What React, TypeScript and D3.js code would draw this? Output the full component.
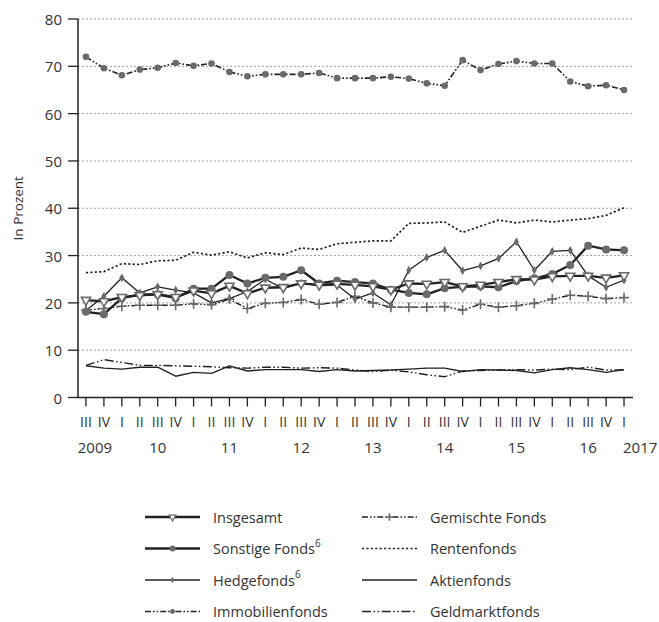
import * as d3 from 'd3';

// Quarters 2009 Q3 .. 2017 Q1
const quarterLabels = [
  'III', 'IV',
  'I', 'II', 'III', 'IV',
  'I', 'II', 'III', 'IV',
  'I', 'II', 'III', 'IV',
  'I', 'II', 'III', 'IV',
  'I', 'II', 'III', 'IV',
  'I', 'II', 'III', 'IV',
  'I', 'II', 'III', 'IV',
  'I',
];
const yearLabels = ['2009', '10', '11', '12', '13', '14', '15', '16', '2017'];
const yearAt = [0.5, 4, 8, 12, 16, 20, 24, 28, 30.9];
const yTicks = [0, 10, 20, 30, 40, 50, 60, 70, 80];

const insgesamt = [20.6, 20.3, 21.2, 21.6, 21.8, 21.2, 22.6, 22.0, 23.6, 22.0, 23.2, 23.3, 24.1, 23.8, 24.0, 23.8, 23.5, 22.8, 24.1, 24.0, 24.4, 23.5, 23.8, 24.4, 25.0, 24.9, 25.6, 25.7, 25.7, 25.3, 25.8];
const sonstige = [18.1, 17.6, 21.0, 21.8, 21.8, 21.0, 23.0, 23.0, 25.9, 24.1, 25.3, 25.5, 26.9, 24.1, 24.7, 24.4, 24.1, 22.8, 22.1, 21.8, 23.1, 23.4, 23.5, 23.3, 24.6, 25.2, 26.1, 28.0, 32.1, 31.3, 31.1];
const hedgefonds = [18.4, 21.4, 25.3, 22.1, 23.4, 22.7, 22.1, 20.0, 20.9, 22.4, 25.0, 23.0, 24.2, 23.6, 23.8, 20.8, 22.1, 19.6, 26.9, 29.6, 31.1, 26.8, 27.8, 29.4, 32.9, 26.9, 30.9, 31.1, 25.7, 23.3, 24.8];
const immobilien = [72.0, 69.6, 68.1, 69.3, 69.7, 70.7, 70.1, 70.6, 68.8, 67.9, 68.3, 68.3, 68.3, 68.6, 67.5, 67.5, 67.5, 67.8, 67.4, 66.4, 65.9, 71.3, 69.2, 70.5, 71.1, 70.6, 70.6, 66.8, 65.8, 66.0, 65.0];
const gemischte = [18.5, 18.8, 19.3, 19.5, 19.5, 19.5, 19.8, 19.6, 20.8, 18.8, 19.9, 20.1, 20.7, 19.7, 20.1, 21.4, 20.0, 19.1, 19.1, 19.1, 19.2, 18.5, 19.7, 19.1, 19.4, 19.9, 20.8, 21.6, 21.4, 20.9, 21.1];
const rentenfonds = [26.4, 26.6, 28.3, 28.1, 28.9, 29.0, 30.7, 30.1, 30.8, 29.5, 30.6, 30.2, 31.6, 31.3, 32.5, 32.8, 33.1, 33.1, 36.8, 36.9, 37.1, 34.9, 36.2, 37.5, 36.9, 37.5, 37.1, 37.5, 37.8, 38.5, 40.1];
const aktienfonds = [6.7, 6.2, 6.0, 6.4, 6.4, 4.5, 5.3, 5.1, 6.7, 5.6, 5.9, 5.9, 5.9, 5.5, 5.9, 5.6, 5.7, 5.8, 6.0, 6.2, 6.2, 5.5, 5.9, 5.8, 5.7, 5.2, 5.9, 6.3, 5.9, 5.3, 5.9];
const geldmarkt = [6.8, 8.0, 7.4, 6.8, 6.8, 6.7, 6.6, 6.5, 6.3, 6.2, 6.4, 6.4, 6.2, 6.3, 6.2, 5.8, 5.5, 5.8, 5.4, 4.8, 4.4, 5.6, 5.7, 5.8, 5.9, 5.8, 6.0, 5.9, 6.4, 5.8, 5.8];

type Marker = 'triangle' | 'circle' | 'diamond' | 'dot' | 'plus' | 'none';
type Series = { name: string; sup?: string; values: number[]; width: number; dash?: string; marker: Marker };

const INK = '#222';
const GREY = '#6a6a6a';
const DDOT = '6,2,1.6,2,1.6,2';

const series: Series[] = [
  { name: 'Aktienfonds', values: aktienfonds, width: 1.4, marker: 'none' },
  { name: 'Geldmarktfonds', values: geldmarkt, width: 1.4, dash: '9,2.5,1.6,2.5,1.6,2.5', marker: 'none' },
  { name: 'Rentenfonds', values: rentenfonds, width: 1.7, dash: '2.2,2.2', marker: 'none' },
  { name: 'Gemischte Fonds', values: gemischte, width: 1.4, dash: DDOT, marker: 'plus' },
  { name: 'Hedgefonds', sup: '6', values: hedgefonds, width: 1.3, marker: 'diamond' },
  { name: 'Sonstige Fonds', sup: '6', values: sonstige, width: 2.3, marker: 'circle' },
  { name: 'Insgesamt', values: insgesamt, width: 2.3, marker: 'triangle' },
  { name: 'Immobilienfonds', values: immobilien, width: 1.6, dash: DDOT, marker: 'dot' },
];

const legendLeft = ['Insgesamt', 'Sonstige Fonds', 'Hedgefonds', 'Immobilienfonds'];
const legendRight = ['Gemischte Fonds', 'Rentenfonds', 'Aktienfonds', 'Geldmarktfonds'];

const FONT = '"Open Sans", "Noto Sans", sans-serif';

function MarkerShape({ kind, x, y, k = 1 }: { kind: Marker; x: number; y: number; k?: number }) {
  if (kind === 'circle') return <circle cx={x} cy={y} r={4 * k} fill={GREY} />;
  if (kind === 'dot') return <circle cx={x} cy={y} r={3.3 * k} fill={GREY} />;
  if (kind === 'diamond') {
    const p = d3.symbol(d3.symbolDiamond, 22 * k * k)();
    return <path d={p || ''} transform={`translate(${x},${y})`} fill={GREY} />;
  }
  if (kind === 'triangle') {
    const p = d3.symbol(d3.symbolTriangle, 36 * k * k)();
    return <path d={p || ''} transform={`translate(${x},${y}) rotate(180)`} fill="#fff" stroke={GREY} strokeWidth={1.6 * k} />;
  }
  if (kind === 'plus') {
    const a = 5 * k;
    return (
      <path d={`M${x - a},${y}H${x + a}M${x},${y - a}V${y + a}`} stroke={GREY} strokeWidth={1.6} fill="none" />
    );
  }
  return null;
}

export default function App() {
  const width = 659;
  const height = 622;
  const x = d3.scaleLinear().domain([-0.5, 30.5]).range([77, 633]);
  const y = d3.scaleLinear().domain([0, 80]).range([397.5, 19]);
  const line = d3
    .line<number>()
    .x((_, i) => x(i))
    .y((d) => y(d));

  const byName = new Map(series.map((s) => [s.name, s]));
  const idx = quarterLabels.map((_, i) => i);

  const legendRow = (name: string, col: number, row: number) => {
    const s = byName.get(name)!;
    const x0 = col === 0 ? 145 : 362;
    const ly = 517 + row * 31.5;
    return (
      <g key={name}>
        <line x1={x0} x2={x0 + 55} y1={ly} y2={ly} stroke={INK} strokeWidth={s.width} strokeDasharray={s.dash} />
        <MarkerShape kind={s.marker} x={x0 + 27.5} y={ly} k={0.75} />
        <text x={x0 + 68} y={ly} dominantBaseline="central" fontSize={14.5} fill="#333">
          {s.name}
          {s.sup && (
            <tspan fontSize={10} dy={-6}>
              {s.sup}
            </tspan>
          )}
        </text>
      </g>
    );
  };

  return (
    <svg
      width={width}
      height={height}
      style={{ position: 'absolute', left: 0, top: 0, fontFamily: FONT }}
      role="img"
      aria-label="Fondsanteile in Prozent"
    >
      <rect width={width} height={height} fill="#fff" />
      {/* grid */}
      {yTicks.filter((t) => t > 0).map((t) => (
        <line key={t} x1={78} x2={633} y1={y(t)} y2={y(t)} stroke="#a0a0a0" strokeWidth={1} strokeDasharray="2,2" />
      ))}
      {/* y axis */}
      <line x1={78} x2={78} y1={y(80)} y2={y(0)} stroke={INK} strokeWidth={1.5} />
      {yTicks.map((t) => (
        <g key={t}>
          <line x1={68} x2={78} y1={y(t)} y2={y(t)} stroke={INK} strokeWidth={1.3} />
          <text x={62} y={y(t)} textAnchor="end" dominantBaseline="central" fontSize={15} fill="#333">
            {t}
          </text>
        </g>
      ))}
      <text
        transform={`translate(18,${y(40)}) rotate(-90)`}
        textAnchor="middle"
        dominantBaseline="central"
        fontSize={13.5}
        fill="#333"
      >
        In Prozent
      </text>
      {/* x axis */}
      <line x1={78} x2={633} y1={y(0)} y2={y(0)} stroke={INK} strokeWidth={1.5} />
      {idx.map((i) => (
        <g key={i}>
          <line x1={x(i)} x2={x(i)} y1={y(0)} y2={y(0) + 9} stroke={INK} strokeWidth={1.3} />
          <text x={x(i)} y={421} textAnchor="middle" dominantBaseline="central" fontSize={14} fill="#333">
            {quarterLabels[i]}
          </text>
        </g>
      ))}
      {yearLabels.map((l, i) => (
        <text key={l} x={x(yearAt[i])} y={447} textAnchor="middle" dominantBaseline="central" fontSize={15} fill="#333">
          {l}
        </text>
      ))}
      {/* series */}
      {series.map((s) => (
        <g key={s.name}>
          <path d={line(s.values) || ''} fill="none" stroke={INK} strokeWidth={s.width} strokeDasharray={s.dash} strokeLinejoin="round" />
          {s.values.map((v, i) => (
            <MarkerShape key={i} kind={s.marker} x={x(i)} y={y(v)} />
          ))}
        </g>
      ))}
      {/* legend */}
      {legendLeft.map((n, r) => legendRow(n, 0, r))}
      {legendRight.map((n, r) => legendRow(n, 1, r))}
    </svg>
  );
}
